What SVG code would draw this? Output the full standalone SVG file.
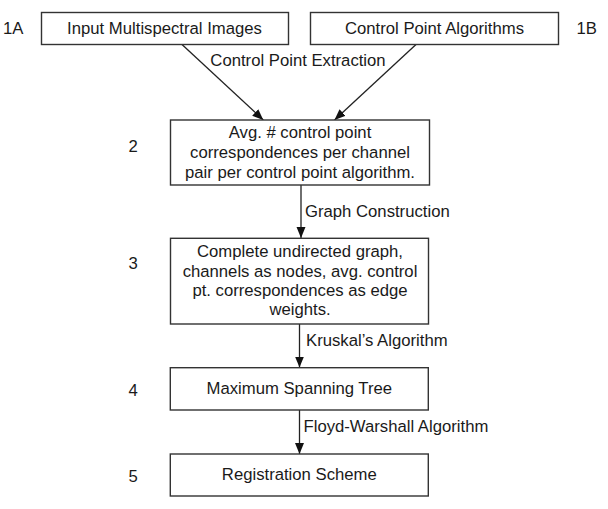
<svg xmlns="http://www.w3.org/2000/svg" width="608" height="509" viewBox="0 0 608 509">
<style>
.box{fill:#fff;stroke:#333;stroke-width:1.4}
text{font-family:"Liberation Sans",Arial,Helvetica,sans-serif;font-size:16.7px;fill:#1a1a1a}
.c{text-anchor:middle}
.conn{stroke:#222;stroke-width:1.3;fill:none}
</style>
<defs>
<marker id="ah" markerUnits="userSpaceOnUse" markerWidth="12" markerHeight="10" refX="11" refY="4.5" orient="auto">
<path d="M0,0 L11,4.5 L0,9 z" fill="#111"/>
</marker>
</defs>
<g id="connectors">
<line class="conn" x1="182" y1="44.5" x2="263.3" y2="120" marker-end="url(#ah)"/>
<line class="conn" x1="416" y1="44.5" x2="334.5" y2="120" marker-end="url(#ah)"/>
<line class="conn" x1="301" y1="185" x2="301" y2="238" marker-end="url(#ah)"/>
<line class="conn" x1="299.5" y1="324" x2="299.5" y2="367.5" marker-end="url(#ah)"/>
<line class="conn" x1="299.5" y1="410" x2="299.5" y2="454" marker-end="url(#ah)"/>
<text x="298" y="66" class="c">Control Point Extraction</text>
<text x="305" y="217">Graph Construction</text>
<text x="306" y="346">Kruskal’s Algorithm</text>
<text x="303.5" y="432">Floyd-Warshall Algorithm</text>
</g>
<g id="node-1A">
<rect class="box" x="41.5" y="12.5" width="247" height="32"/>
<text x="164.5" y="34.3" class="c">Input Multispectral Images</text>
<text x="3" y="34.3">1A</text>
</g>
<g id="node-1B">
<rect class="box" x="310.5" y="12.5" width="248" height="32"/>
<text x="434.5" y="34.3" class="c">Control Point Algorithms</text>
<text x="576.5" y="34.3">1B</text>
</g>
<g id="node-2">
<rect class="box" x="170.5" y="120" width="259" height="65"/>
<text x="300" y="137.7" class="c">Avg. # control point</text>
<text x="300" y="158" class="c">correspondences per channel</text>
<text x="300" y="178" class="c">pair per control point algorithm.</text>
<text x="128.5" y="152">2</text>
</g>
<g id="node-3">
<rect class="box" x="170.5" y="238.3" width="258" height="85.7"/>
<text x="300" y="257.3" class="c">Complete undirected graph,</text>
<text x="300" y="276.7" class="c">channels as nodes, avg. control</text>
<text x="300" y="296" class="c">pt. correspondences as edge</text>
<text x="300" y="315.3" class="c">weights.</text>
<text x="128.5" y="269">3</text>
</g>
<g id="node-4">
<rect class="box" x="170.3" y="367.7" width="258" height="42.3"/>
<text x="299.3" y="394" class="c">Maximum Spanning Tree</text>
<text x="128.5" y="396">4</text>
</g>
<g id="node-5">
<rect class="box" x="170.3" y="454" width="258" height="42"/>
<text x="299.3" y="480" class="c">Registration Scheme</text>
<text x="128.5" y="482">5</text>
</g>
</svg>
